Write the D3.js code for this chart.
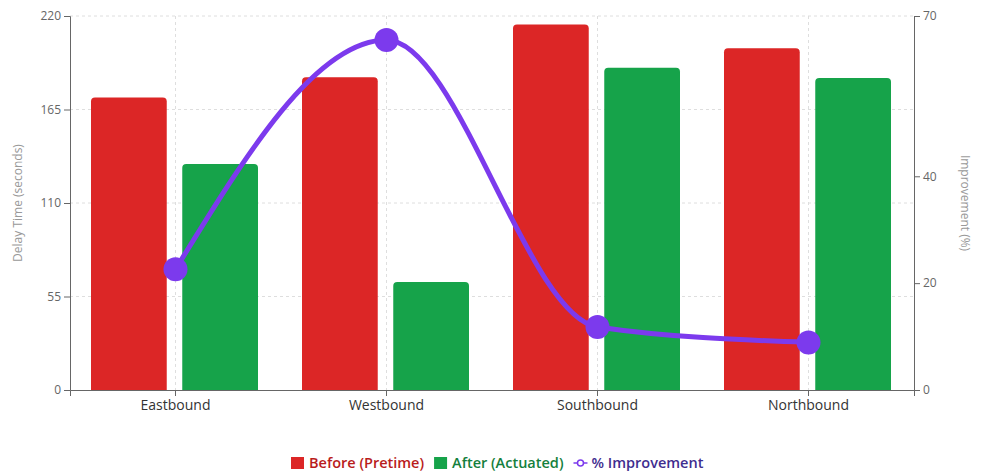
<!DOCTYPE html>
<html><head><meta charset="utf-8">
<script src="https://cdn.jsdelivr.net/npm/d3@7"></script>
<style>
html,body{margin:0;padding:0;background:#fff;}
svg{display:block;font-family:"Open Sans","Noto Sans",sans-serif;}
</style></head>
<body><svg id="c" width="987" height="475"></svg>
<script>
const categories = ["Eastbound","Westbound","Southbound","Northbound"];
const beforeValues = [172, 184, 215, 201];
const afterValues = [133, 63.5, 189.5, 183.5];
const improvementValues = [22.6, 65.5, 11.8, 8.9];
const leftTicks = [0, 55, 110, 165, 220];
const rightTicks = [0, 20, 40, 70];
const seriesNames = ["Before (Pretime)", "After (Actuated)", "% Improvement"];

const W = 987, H = 475;
const m = {left: 70, right: 73, top: 16, bottom: 85};
const iw = W - m.left - m.right, ih = H - m.top - m.bottom;
const svg = d3.select("#c");
const g = svg.append("g").attr("transform", `translate(${m.left},${m.top})`);

const x0 = d3.scaleBand().domain(categories).range([0, iw]).padding(0);
const x1 = d3.scaleBand().domain(["before","after"]).range([21, x0.bandwidth()-23]).paddingInner(0.17);
const yL = d3.scaleLinear().domain([0, 220]).range([ih, 0]);
const yR = d3.scaleLinear().domain([0, 70]).range([ih, 0]);

const red = "#dc2626", green = "#16a34a", purple = "#7c3aed";

// grid
const grid = g.append("g").attr("stroke", "#dedede").attr("stroke-dasharray", "3 3").attr("fill","none");
leftTicks.forEach(t => { if (t>0) grid.append("line").attr("x1",0).attr("x2",iw).attr("y1",yL(t)).attr("y2",yL(t)); });
categories.forEach(c => { const cx = x0(c)+x0.bandwidth()/2; grid.append("line").attr("x1",cx).attr("x2",cx).attr("y1",0).attr("y2",ih); });

function topRounded(x, y, w, h, r) {
  r = Math.min(r, h, w/2);
  return `M${x},${y+h}V${y+r}Q${x},${y} ${x+r},${y}H${x+w-r}Q${x+w},${y} ${x+w},${y+r}V${y+h}Z`;
}

const groups = g.selectAll(".grp").data(categories).join("g").attr("transform", c => `translate(${x0(c)},0)`);
groups.append("path").attr("fill", red).attr("d", (c,i) => topRounded(x1("before"), yL(beforeValues[i]), x1.bandwidth(), ih - yL(beforeValues[i]), 4));
groups.append("path").attr("fill", green).attr("d", (c,i) => topRounded(x1("after"), yL(afterValues[i]), x1.bandwidth(), ih - yL(afterValues[i]), 4));

// axes
const axisColor = "#666";
const xAxis = g.append("g").attr("transform", `translate(0,${ih})`).call(d3.axisBottom(x0).tickSizeOuter(0).tickSize(6).tickPadding(4));
xAxis.selectAll("text").attr("font-size", 14).attr("font-weight", 500).attr("fill", "#333");
const lAxis = g.append("g").call(d3.axisLeft(yL).tickValues(leftTicks).tickSizeOuter(0).tickSize(6).tickPadding(3));
lAxis.selectAll("text").attr("font-size", 12).attr("fill", "#666");
const rAxis = g.append("g").attr("transform", `translate(${iw},0)`).call(d3.axisRight(yR).tickValues(rightTicks).tickSizeOuter(0).tickSize(6).tickPadding(3));
rAxis.selectAll("text").attr("font-size", 12).attr("fill", "#666");
[xAxis,lAxis,rAxis].forEach(a => { a.selectAll("line,path").attr("stroke", axisColor); a.attr("font-family", null); });

// axis titles
svg.append("text").attr("transform", `translate(22,${m.top+ih/2}) rotate(-90)`).attr("text-anchor","middle")
  .attr("font-size", 12).attr("fill", "#999").text("Delay Time (seconds)");
svg.append("text").attr("transform", `translate(961,${m.top+ih/2}) rotate(90)`).attr("text-anchor","middle")
  .attr("font-size", 12).attr("fill", "#999").text("Improvement (%)");

// line
const pts = categories.map((c,i) => [x0(c)+x0.bandwidth()/2, yR(improvementValues[i])]);
g.append("path").attr("fill","none").attr("stroke", purple).attr("stroke-width", 5)
  .attr("d", d3.line().curve(d3.curveMonotoneX)(pts));
g.selectAll(".dot").data(pts).join("circle").attr("cx", d=>d[0]).attr("cy", d=>d[1]).attr("r", 12).attr("fill", purple);

// legend
const leg = svg.append("g").attr("font-size", 14.5).attr("font-weight", 600);
const items = [
  {name: seriesNames[0], color: red, text: "#b91c1c", type: "rect"},
  {name: seriesNames[1], color: green, text: "#15803d", type: "rect"},
  {name: seriesNames[2], color: purple, text: "#3f2d8f", type: "line"}
];
let lx = 291; const ly = 463;
items.forEach(it => {
  const ig = leg.append("g").attr("transform", `translate(${lx},${ly})`);
  if (it.type === "rect") {
    ig.append("rect").attr("x",0).attr("y",-6).attr("width",13).attr("height",12).attr("fill", it.color);
  } else {
    ig.append("line").attr("x1",0).attr("x2",14).attr("y1",0).attr("y2",0).attr("stroke", it.color).attr("stroke-width",1.5);
    ig.append("circle").attr("cx",7).attr("cy",0).attr("r",3).attr("fill","#fff").attr("stroke", it.color).attr("stroke-width",1.5);
  }
  const t = ig.append("text").attr("x", 18).attr("y", 5).attr("fill", it.text).text(it.name);
  lx += 18 + t.node().getComputedTextLength() + 10;
});
</script></body></html>
